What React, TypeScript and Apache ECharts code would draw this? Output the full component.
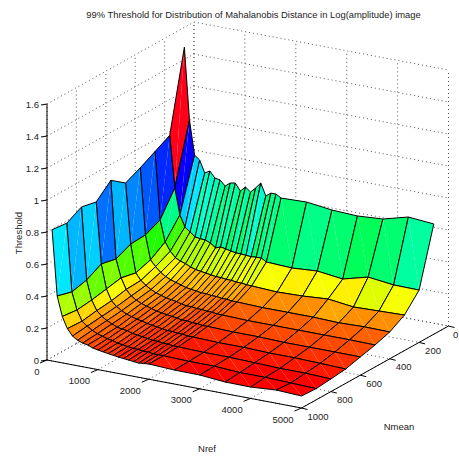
import React, { useEffect, useRef } from "react";
import * as echarts from "echarts";

const titleText = "99% Threshold for Distribution of Mahalanobis Distance in Log(amplitude) image";
const nrefValues = [100,200,300,400,500,600,700,800,900,1000,1100,1200,1300,1400,1500,1600,1700,1800,1900,2000,2500,3000,3500,4000,4500,5000];
const nmeanValues = [100,200,300,400,500,600,700,800,900,1000];
const nmean100 = [1.50,1.05,.8375,.8125,.7375,.756,.718,.712,.68,.705,.711,.667,.698,.6725,.704,.741,.666,.69,.69,.671,.676,.656,.649,.66,.7025,.689];
const nmean200 = [1.0,.677,.514,.445,.42,.395,.39,.3875,.375,.35,.3625,.356,.349,.343,.3425,.34,.3375,.34,.341,.3225,.315,.326,.306,.348,.329,.327];
const nmean300 = [.95,.528,.397,.345,.31,.295,.285,.27,.26,.255,.25,.245,.24,.24,.235,.235,.23,.23,.225,.224,.216,.221,.2325,.2125,.2175,.222];
const nmean400 = [.90,.486,.336,.30,.27,.25,.235,.225,.215,.205,.20,.195,.19,.19,.185,.185,.18,.18,.175,.175,.17,.17,.17,.165,.17,.1675];
const nmean500 = [.856,.48,.306,.265,.24,.22,.205,.195,.185,.18,.175,.165,.16,.16,.155,.155,.15,.15,.145,.145,.14,.14,.14,.14,.14,.1375];
const nmean600 = [.924,.438,.326,.26,.225,.205,.19,.18,.17,.16,.155,.15,.145,.14,.135,.135,.13,.13,.125,.125,.12,.12,.115,.115,.115,.114];
const nmean700 = [.84,.458,.308,.24,.21,.19,.175,.165,.155,.15,.14,.135,.13,.125,.12,.12,.115,.115,.11,.11,.105,.105,.1,.1,.095,.09];
const nmean800 = [.86,.409,.29,.23,.2,.18,.165,.15,.145,.14,.13,.125,.12,.115,.11,.11,.105,.105,.1,.1,.095,.095,.09,.085,.085,.079];
const nmean900 = [.81,.386,.279,.215,.19,.17,.155,.145,.135,.13,.12,.115,.11,.105,.105,.1,.1,.095,.095,.095,.09,.09,.08,.08,.075,.07];
const nmean1000 = [.82,.412,.29,.22,.18,.16,.148,.142,.129,.1225,.117,.112,.107,.1025,.099,.096,.092,.089,.092,.095,.0875,.086,.0725,.071,.0825,.075];
const zRows = [nmean100,nmean200,nmean300,nmean400,nmean500,nmean600,nmean700,nmean800,nmean900,nmean1000];

const nrefTicks = [0,1000,2000,3000,4000,5000];
const nmeanTicks = [0,200,400,600,800,1000];
const zTicks = [0,0.2,0.4,0.6,0.8,1,1.2,1.4,1.6];

const W = 459, H = 457;
const FAMILY = '"Liberation Sans", Arial, sans-serif';
const FONT = `9.5px ${FAMILY}`;
const TEXT = "#1c1c1c";

// orthographic view of the MATLAB axes box, onto a plane measured by the hidden axes
function project(nref: number, nmean: number, z: number): [number, number] {
  const a = nref / 5000, b = 1 - nmean / 1000;
  return [47 + 254.5 * a + 147 * b, 360 + 48 * a - 82 * b - 160 * z];
}

function hsvColor(z: number, lo: number, hi: number): string {
  const h = Math.min(63, Math.floor(((z - lo) / (hi - lo)) * 64)) / 64;
  const s = h * 6, k = Math.floor(s), f = s - k;
  const table = [[1,f,0],[1-f,1,0],[0,1,f],[0,1-f,1],[f,0,1],[1,0,1-f]][k % 6];
  return `rgb(${table.map((v) => Math.round(v * 255)).join(",")})`;
}

const allZ = zRows.flat();
const zLo = Math.min(...allZ), zHi = Math.max(...allZ);

const faces: number[][] = [];
for (let i = 0; i < nrefValues.length - 1; i++) for (let j = 0; j < nmeanValues.length - 1; j++) faces.push([i, j]);

export default function App() {
  const ref = useRef<HTMLDivElement>(null);
  useEffect(() => {
    document.body.style.margin = "0";
    const chart = echarts.init(ref.current!, undefined, { renderer: "svg" });

    const renderSurface = (params: any, api: any) => {
      const i = api.value(0), j = api.value(1);
      const P = (a: number, b: number) => api.coord(project(nrefValues[a], nmeanValues[b], zRows[b][a]));
      const p00 = P(i, j), p10 = P(i + 1, j), p11 = P(i + 1, j + 1), p01 = P(i, j + 1);
      const fill = hsvColor(zRows[j][i], zLo, zHi);
      return {
        type: "group",
        children: [
          { type: "polygon", shape: { points: [p00, p10, p11] }, style: { fill, stroke: "none" } },
          { type: "polygon", shape: { points: [p00, p11, p01] }, style: { fill, stroke: "none" } },
          { type: "polygon", shape: { points: [p00, p10, p11, p01] }, style: { fill: "none", stroke: "#000", lineWidth: 1, lineJoin: "round" } },
        ],
      };
    };

    const renderBox = (params: any, api: any) => {
      const C = (r: number, m: number, z: number) => api.coord(project(r, m, z));
      const kids: any[] = [];
      const seg = (a: number[], b: number[], solid: boolean, off = [0, 0]) =>
        kids.push({
          type: "line",
          shape: { x1: a[0], y1: a[1], x2: b[0] + off[0], y2: b[1] + off[1] },
          style: solid ? { stroke: "#000", lineWidth: 1 } : { stroke: "#555", lineWidth: 1, lineDash: [1, 3] },
        });
      for (const z of zTicks) {
        seg(C(0, 1000, z), C(0, 0, z), false);
        seg(C(0, 0, z), C(5000, 0, z), false);
      }
      for (const r of nrefTicks) {
        seg(C(r, 1000, 0), C(r, 0, 0), false);
        seg(C(r, 0, 0), C(r, 0, 1.6), false);
      }
      for (const m of nmeanTicks) {
        seg(C(0, m, 0), C(5000, m, 0), false);
        seg(C(0, m, 0), C(0, m, 1.6), false);
      }
      seg(C(0, 1000, 0), C(0, 1000, 1.6), true);
      seg(C(0, 1000, 0), C(5000, 1000, 0), true);
      seg(C(5000, 1000, 0), C(5000, 0, 0), true);
      for (const z of zTicks) { const p = C(0, 1000, z); seg(p, p, true, [-6, 1]); }
      for (const r of nrefTicks) { const p = C(r, 1000, 0); seg(p, p, true, [-7, 3]); }
      for (const m of nmeanTicks) { const p = C(5000, m, 0); seg(p, p, true, [6, 1.5]); }
      return { type: "group", children: kids };
    };

    const label = (text: string, x: number, y: number, align = "center", rotation = 0) => ({
      type: "text", x, y, rotation,
      style: { text, font: FONT, fill: TEXT, textAlign: align, textVerticalAlign: "middle" },
    });

    const labels = [
      ...zTicks.map((z) => label(String(z), 39, project(0, 1000, z)[1], "right")),
      ...nrefTicks.map((r) => {
        const p = project(r, 1000, 0);
        return r === 0 ? label("0", p[0] - 10, p[1] + 11) : label(String(r), p[0] - 18.5, p[1] + 11);
      }),
      ...nmeanTicks.map((m) => {
        const p = project(5000, m, 0);
        return m === 0 ? label("0", 453, p[1] + 8, "left") : label(String(m), p[0] + 6, p[1] + 8, "left");
      }),
      label("Threshold", 18, 233, "center", Math.PI / 2),
      label("Nref", 207, 448),
      label("Nmean", 399, 426),
    ];

    chart.setOption({
      animation: false,
      title: {
        text: titleText, left: 248.5, top: 5, textAlign: "center",
        textStyle: { fontSize: 9.4, fontWeight: "normal", color: TEXT, fontFamily: FAMILY },
      },
      grid: { left: 0, right: 0, top: 0, bottom: 0 },
      xAxis: { type: "value", min: 0, max: W, show: false },
      yAxis: { type: "value", min: 0, max: H, inverse: true, show: false },
      graphic: labels,
      series: [
        { type: "custom", coordinateSystem: "cartesian2d", clip: false, data: [[0, 0]], renderItem: renderBox, silent: true, z: 1 },
        { type: "custom", coordinateSystem: "cartesian2d", clip: false, data: faces, renderItem: renderSurface, silent: true, z: 2, progressive: 0 },
      ],
    });
    return () => chart.dispose();
  }, []);
  return <div ref={ref} style={{ width: W, height: H, position: "absolute", left: 0, top: 0 }} />;
}
